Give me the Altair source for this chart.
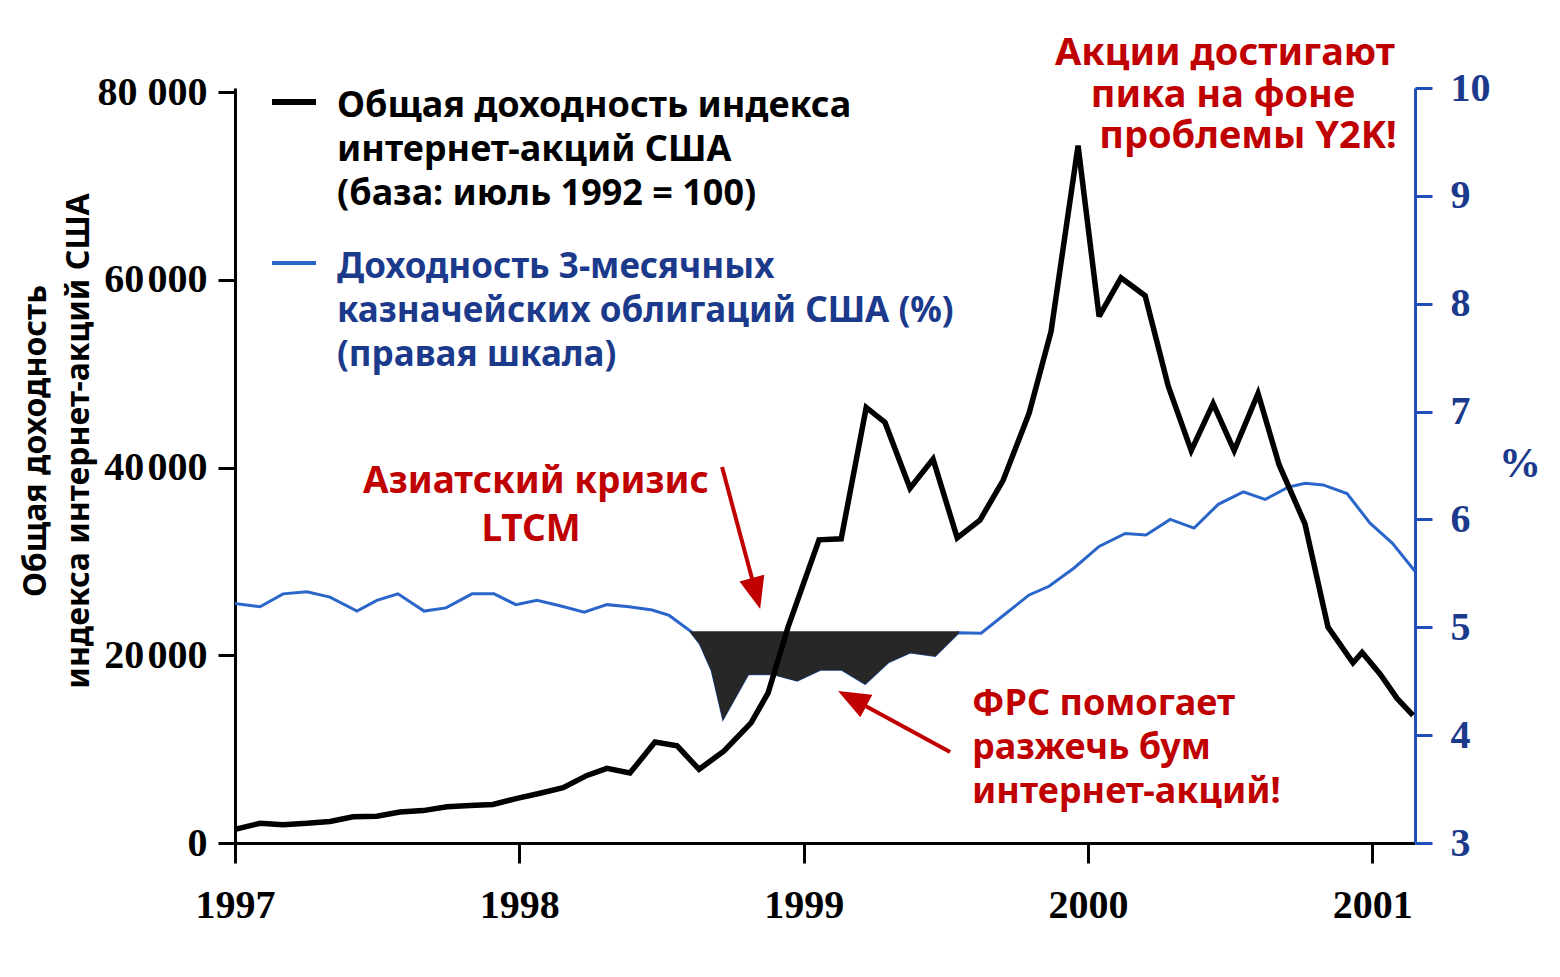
import altair as alt
import pandas as pd

# Общая доходность индекса интернет-акций США (точки излома линии)
stock_t = [1997.000, 1997.088, 1997.169, 1997.253, 1997.334, 1997.415, 1997.499, 1997.580,
           1997.661, 1997.746, 1997.827, 1997.907, 1997.992, 1998.073, 1998.154, 1998.238,
           1998.308, 1998.389, 1998.477, 1998.555, 1998.632, 1998.720, 1998.815, 1998.875,
           1998.945, 1999.054, 1999.132, 1999.220, 1999.286, 1999.374, 1999.455, 1999.540,
           1999.620, 1999.701, 1999.793, 1999.870, 1999.965, 2000.039, 2000.116, 2000.201,
           2000.282, 2000.363, 2000.440, 2000.514, 2000.598, 2000.672, 2000.763, 2000.844,
           2000.932, 2000.964, 2001.027, 2001.087, 2001.143]
stock_val = [1450, 2100, 1950, 2100, 2300, 2800, 2850, 3300, 3450, 3850, 4000, 4100, 4750,
             5300, 5900, 7200, 7950, 7450, 10750, 10350, 7850, 9800, 12800, 16000, 23000,
             32300, 32400, 46400, 44800, 37800, 40900, 32500, 34400, 38600, 45800, 54500,
             74300, 56100, 60200, 58300, 48700, 41800, 46800, 41800, 47900, 40300, 34000,
             23000, 19200, 20300, 18000, 15400, 13600]

# Доходность 3-месячных казначейских облигаций США, %
yield_t = [1997.000, 1997.088, 1997.169, 1997.253, 1997.334, 1997.429, 1997.499, 1997.573,
           1997.665, 1997.742, 1997.834, 1997.911, 1997.988, 1998.062, 1998.143, 1998.228,
           1998.308, 1998.386, 1998.467, 1998.527, 1998.604, 1998.636, 1998.678, 1998.717,
           1998.804, 1998.892, 1998.977, 1999.058, 1999.135, 1999.216, 1999.297, 1999.374,
           1999.462, 1999.543, 1999.624, 1999.712, 1999.793, 1999.863, 1999.951, 2000.039,
           2000.131, 2000.204, 2000.289, 2000.373, 2000.458, 2000.546, 2000.623, 2000.704,
           2000.764, 2000.827, 2000.911, 2000.992, 2001.070, 2001.150]
yield_val = [5.22, 5.19, 5.31, 5.33, 5.28, 5.15, 5.25, 5.31, 5.15, 5.18, 5.31, 5.31, 5.21,
             5.25, 5.20, 5.14, 5.21, 5.19, 5.16, 5.11, 4.96, 4.85, 4.60, 4.16, 4.57, 4.57,
             4.51, 4.61, 4.61, 4.48, 4.68, 4.77, 4.74, 4.95, 4.945, 5.13, 5.30, 5.38, 5.55,
             5.75, 5.87, 5.855, 6.00, 5.92, 6.14, 6.255, 6.185, 6.30, 6.335, 6.32, 6.24,
             5.965, 5.78, 5.52]

# провал ставки после кризиса (зачернённая область)
shade_start, shade_end, shade_level = 1998.60, 1999.55, 4.955

# стрелки: начало -> острие (в единицах левой шкалы)
arrow_t0 = [1998.713, 1999.515]
arrow_v0 = [40050, 9700]
arrow_t1 = [1998.847, 1999.121]
arrow_v1 = [24930, 16190]
arrow_angle = [165, 298]

year_ticks = [1997, 1998, 1999, 2000, 2001]
left_ticks = [0, 20000, 40000, 60000, 80000]
right_ticks = [3, 4, 5, 6, 7, 8, 9, 10]

BLUE_LINE = "#2a66c9"
BLUE_AXIS = "#1f4fb8"
BLUE_TEXT = "#1b3a8c"
RED = "#c00000"
SANS = "Noto Sans"
SERIF = "Liberation Serif"

stock = pd.DataFrame({"t": stock_t, "v": stock_val})
ylds = pd.DataFrame({"t": yield_t, "v": yield_val})
arrows = pd.DataFrame({"t0": arrow_t0, "v0": arrow_v0, "t1": arrow_t1, "v1": arrow_v1,
                       "ang": arrow_angle})

x_scale = alt.Scale(domain=[1997, 2001.15], nice=False, zero=False)
left_scale = alt.Scale(domain=[0, 80430], nice=False, zero=False)
right_scale = alt.Scale(domain=[3, 10], nice=False, zero=False)

x_axis = alt.Axis(values=year_ticks, format="d", title=None, orient="bottom", grid=False,
                  labelFont=SERIF, labelFontWeight="bold", labelFontSize=40,
                  labelColor="black", labelPadding=22, labelFlush=False,
                  labelOverlap=False, domainColor="black", domainWidth=3,
                  tickColor="black", tickWidth=3, tickSize=20)
# "80 000" с обычным пробелом, остальные - с узким, как в оригинале
left_axis = alt.Axis(values=left_ticks, title=None, orient="left", grid=False,
                     labelExpr="datum.value == 80000 ? '80 000' : "
                               "replace(format(datum.value, ',d'), ',', '\u200a')",
                     labelFont=SERIF, labelFontWeight="bold", labelFontSize=40,
                     labelColor="black", labelPadding=11, labelOverlap=False,
                     domainColor="black", domainWidth=3, tickColor="black",
                     tickWidth=3, tickSize=17)
right_axis = alt.Axis(values=right_ticks, title=None, orient="right", grid=False,
                      labelFont=SERIF, labelFontWeight="bold", labelFontSize=40,
                      labelColor=BLUE_TEXT, labelPadding=18, labelOverlap=False,
                      domainColor=BLUE_AXIS, domainWidth=3, tickColor=BLUE_AXIS,
                      tickWidth=3, tickSize=17)

X = alt.X("t:Q", scale=x_scale, axis=x_axis)

# правая шкала: ставка + зачернённый провал
yield_line = alt.Chart(ylds).mark_line(color=BLUE_LINE, strokeWidth=3).encode(
    x=X, y=alt.Y("v:Q", scale=right_scale, axis=right_axis))

shade = alt.Chart(ylds).transform_filter(
    (alt.datum.t >= shade_start) & (alt.datum.t <= shade_end)
).transform_calculate(
    lo=f"min(datum.v, {shade_level})", hi=f"{shade_level}"
).mark_area(color="#272727", stroke="#272727", strokeWidth=2).encode(
    x=X, y=alt.Y("lo:Q", scale=right_scale, axis=right_axis), y2="hi:Q")

yield_group = alt.layer(yield_line, shade)

# левая шкала: индекс + стрелки
stock_line = alt.Chart(stock).mark_line(
    color="black", strokeWidth=5.5, strokeJoin="miter", strokeMiterLimit=3
).encode(x=X, y=alt.Y("v:Q", scale=left_scale, axis=left_axis))

shafts = alt.Chart(arrows).transform_calculate(
    te="datum.t0 + 0.8 * (datum.t1 - datum.t0)",
    ve="datum.v0 + 0.8 * (datum.v1 - datum.v0)"
).mark_rule(color=RED, strokeWidth=4).encode(
    x=alt.X("t0:Q", scale=x_scale, axis=x_axis), x2="te:Q",
    y=alt.Y("v0:Q", scale=left_scale, axis=left_axis), y2="ve:Q")

heads = alt.Chart(arrows).mark_point(
    shape="M0,0 L0.4,1 L-0.4,1 Z", size=4096, filled=True, color=RED, opacity=1
).encode(
    x=alt.X("t1:Q", scale=x_scale, axis=x_axis),
    y=alt.Y("v1:Q", scale=left_scale, axis=left_axis),
    angle=alt.Angle("ang:Q", scale=None))

stock_group = alt.layer(stock_line, shafts, heads)


def text_layer(lines, xs, ys, **style):
    df = pd.DataFrame({"text": lines, "px": xs, "py": ys})
    return alt.Chart(df).mark_text(baseline="middle", **style).encode(
        x=alt.X("px:Q", scale=None, axis=None),
        y=alt.Y("py:Q", scale=None, axis=None),
        text="text:N")


legend_black = text_layer(
    ["Общая доходность индекса", "интернет-акций США", "(база: июль 1992 = 100)"],
    [102, 102, 102], [18, 62, 106],
    align="left", font=SANS, fontWeight="bold", fontSize=36, color="black")
legend_blue = text_layer(
    ["Доходность 3-месячных", "казначейских облигаций США (%)", "(правая шкала)"],
    [102, 102, 102], [179, 223, 267],
    align="left", font=SANS, fontWeight="bold", fontSize=35, color=BLUE_TEXT)

one = pd.DataFrame({"k": [0]})
dash_black = alt.Chart(one).mark_rule(color="black", strokeWidth=6).encode(
    x=alt.value(37), x2=alt.value(81), y=alt.value(14))
dash_blue = alt.Chart(one).mark_rule(color=BLUE_LINE, strokeWidth=4).encode(
    x=alt.value(37), x2=alt.value(81), y=alt.value(175))

note_crisis = text_layer(
    ["Азиатский кризис", "LTCM"], [301, 296], [394, 442],
    align="center", font=SANS, fontWeight="bold", fontSize=37, color=RED)
note_peak = text_layer(
    ["Акции достигают", "пика на фоне", "проблемы Y2K!"], [990, 988, 1013], [-34, 8, 49],
    align="center", font=SANS, fontWeight="bold", fontSize=38, color=RED)
note_fed = text_layer(
    ["ФРС помогает", "разжечь бум", "интернет-акций!"], [737, 737, 737], [616, 660, 704],
    align="left", font=SANS, fontWeight="bold", fontSize=36, color=RED)

left_title = text_layer(
    ["Общая доходность", "индекса интернет-акций США"], [-199, -156], [353, 353],
    align="center", angle=270, font=SANS, fontWeight="bold", fontSize=32, color="black")
right_title = text_layer(
    ["%"], [1285], [376],
    align="center", font=SERIF, fontWeight="bold", fontSize=42, color=BLUE_TEXT)

chart = alt.layer(
    yield_group, stock_group,
    dash_black, dash_blue, legend_black, legend_blue,
    note_crisis, note_peak, note_fed, left_title, right_title
).resolve_scale(
    y="independent"
).properties(
    width=1180, height=755,
    autosize=alt.AutoSizeParams(type="none"),
    padding={"left": 227, "top": 80, "right": 130, "bottom": 120},
    background="white"
).configure_view(stroke=None)

chart.save("out.html", embed_options={"renderer": "svg", "actions": False})
